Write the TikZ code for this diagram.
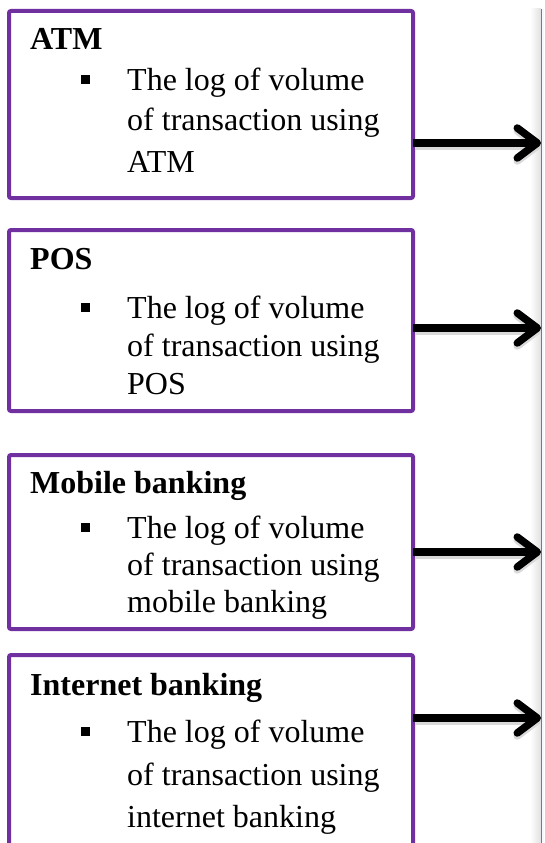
\documentclass[tikz,border=0pt]{standalone}
\usepackage{fontspec}
\setmainfont{Liberation Serif}
\usetikzlibrary{arrows.meta}
\definecolor{boxpurple}{HTML}{7030A0}
\definecolor{panelblue}{HTML}{4F81BD}
\tikzset{
  card/.style={draw=boxpurple, line width=4pt, rounded corners=2pt, fill=white},
  ttl/.style={anchor=base west, inner sep=0pt, font=\fontsize{32}{38}\selectfont\bfseries},
  txt/.style={anchor=base west, inner sep=0pt, font=\fontsize{32}{38}\selectfont},
  bul/.style={fill=black, rectangle, minimum size=9pt, inner sep=0pt},
  conn/.style={line width=7.5pt, -{Straight Barb[length=20pt,width=30pt,line cap=round,line join=round]}},
  connshadow/.style={line width=7.5pt, draw=black!15, -{Straight Barb[length=20pt,width=30pt,line cap=round,line join=round]}}
}
\newcommand\bodyline[3]{\node[txt] (#1) at (127,#2) {#3};}
\begin{document}
\begin{tikzpicture}[x=1pt,y=-1pt]
\useasboundingbox (0,0) rectangle (544,843);
\clip (0,0) rectangle (544,843);
% right panel edge
\shade[left color=white, right color=black!12] (530,9) rectangle (541,843);
\fill[white!97!blue] (541,9) rectangle (544,843);
\draw[panelblue, line width=1.6pt] (541.5,9) -- (541.5,843);
\coordinate (p1) at (541,143);
\coordinate (p2) at (541,328);
\coordinate (p3) at (541,552);
\coordinate (p4) at (541,718);
% boxes
\draw[card] (9,11) rectangle (413,198);
\draw[card] (9,230) rectangle (413,411);
\draw[card] (9,455) rectangle (413,629);
\draw[card] (9,655) rectangle (413,850);
\coordinate (b1) at (413,143);
\coordinate (b2) at (413,328);
\coordinate (b3) at (413,552);
\coordinate (b4) at (413,718);
% box 1
\node[ttl] (t1) at (30,50) {ATM};
\node[bul] (u1) at (85,79) {};
\bodyline{l11}{90}{The log of volume}
\bodyline{l12}{130}{of transaction using}
\bodyline{l13}{172}{ATM}
% box 2
\node[ttl] (t2) at (30,269) {POS};
\node[bul] (u2) at (85,307) {};
\bodyline{l21}{318}{The log of volume}
\bodyline{l22}{356}{of transaction using}
\bodyline{l23}{394}{POS}
% box 3
\node[ttl] (t3) at (30,493) {Mobile banking};
\node[bul] (u3) at (85,527) {};
\bodyline{l31}{538}{The log of volume}
\bodyline{l32}{575}{of transaction using}
\bodyline{l33}{612}{mobile banking}
% box 4
\node[ttl] (t4) at (30,695) {Internet banking};
\node[bul] (u4) at (85,731) {};
\bodyline{l41}{742}{The log of volume}
\bodyline{l42}{785}{of transaction using}
\bodyline{l43}{827}{internet banking}
% arrows
\foreach \i in {1,2,3,4}{
  \draw[connshadow] ([shift={(2,3)}]b\i) -- ([shift={(0,3)}]p\i);
  \draw[conn] (b\i) -- (p\i);
}
\end{tikzpicture}
\end{document}
